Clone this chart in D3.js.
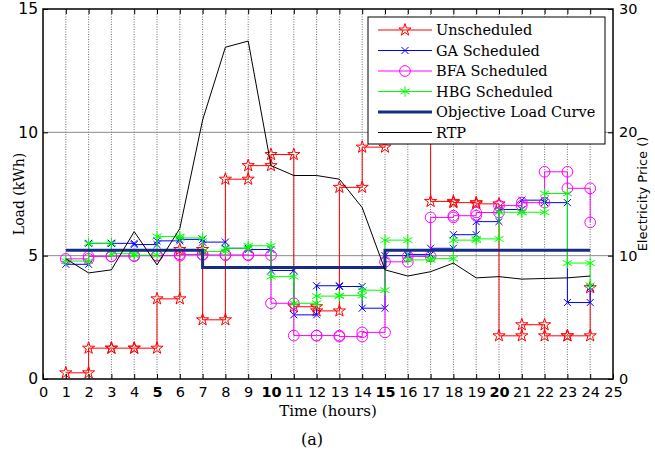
<!DOCTYPE html>
<html>
<head>
<meta charset="utf-8">
<script src="https://cdn.jsdelivr.net/npm/d3@7"></script>
<style>
  body { margin: 0; background: #fff; }
  svg { display: block; }
</style>
</head>
<body>
<svg width="655" height="456"></svg>
<script>
// Hours on the x axis and the series
const hours = d3.range(1, 25);
const xTicks = d3.range(0, 26);
const loadTicks = [0, 5, 10, 15];
const priceTicks = [0, 10, 20, 30];

const unscheduled = [0.25, 1.25, 1.25, 1.25, 3.25, 5.25, 2.4, 8.1, 8.65, 9.1, 2.93, 2.76,
                     7.77, 9.4, 12.2, 12.6, 7.2, 7.15, 7.1, 1.75, 2.2, 1.75, 1.75, 3.7];
const gaScheduled = [4.65, 5.5, 5.5, 5.45, 5.6, 5.66, 5.55, 5.3, 5.25, 4.4, 2.6, 3.78,
                     3.75, 2.87, 5.0, 5.05, 5.3, 5.85, 6.38, 6.87, 7.25, 7.15, 3.1, 3.7];
const bfaScheduled = [4.87, 4.97, 4.98, 5.0, 5.0, 5.05, 5.03, 5.03, 5.02, 3.07, 1.76, 1.76,
                      1.72, 1.89, 4.75, 4.97, 6.55, 6.62, 6.75, 7.03, 7.15, 8.4, 7.73, 6.35];
const hbgScheduled = [4.78, 5.5, 5.08, 5.02, 5.78, 5.72, 5.17, 5.3, 5.4, 4.15, 3.07, 3.36,
                      3.38, 3.6, 5.63, 4.83, 4.88, 5.63, 5.68, 6.76, 6.76, 7.52, 4.7, 3.8];
const objectiveLoad = [5.22, 5.22, 5.22, 5.22, 5.22, 5.22, 4.52, 4.52, 4.52, 4.52, 4.52, 4.52,
                       4.52, 4.52, 5.22, 5.22, 5.22, 5.22, 5.22, 5.22, 5.22, 5.22, 5.22, 5.22];
const rtp = [9.75, 8.6, 8.85, 11.95, 9.25, 12.2, 21.0, 26.9, 27.4, 17.3, 16.5, 16.5,
             16.2, 13.9, 8.85, 8.35, 8.7, 9.4, 8.2, 8.3, 8.1, 8.15, 8.2, 8.35];

// Plot box
const plotLeft = 43, plotRight = 613, plotTop = 9, plotBottom = 379;

const svg = d3.select("svg");

const x = d3.scaleLinear().domain([0, 25]).range([plotLeft, plotRight]);
const y = d3.scaleLinear().domain([0, 15]).range([plotBottom, plotTop]);
const y2 = d3.scaleLinear().domain([0, 30]).range([plotBottom, plotTop]);

// matlab style stairs: step at each hour, last value only at the end point
const stairs = vals => vals.flatMap((v, i) =>
  i < vals.length - 1 ? [[hours[i], v], [hours[i + 1], v]] : [[hours[i], v]]);

// Grid lines
svg.append("g").selectAll("line").data(hours).join("line")
  .attr("x1", d => x(d)).attr("x2", d => x(d))
  .attr("y1", plotTop).attr("y2", plotBottom)
  .attr("stroke", "#6e6e6e").attr("stroke-width", 1)
  .attr("stroke-dasharray", "1,1.5");

svg.append("g").selectAll("line").data([10, 20]).join("line")
  .attr("x1", plotLeft).attr("x2", plotRight)
  .attr("y1", d => y2(d)).attr("y2", d => y2(d))
  .attr("stroke", "#8a8a8a").attr("stroke-width", 1);

// Series definitions (styles only)
const series = [
  { name: "Unscheduled", values: unscheduled, color: "#ff0000", symbol: d3.symbolStar, size: 46 },
  { name: "GA Scheduled", values: gaScheduled, color: "#0000ff", symbol: d3.symbolTimes, size: 34 },
  { name: "BFA Scheduled", values: bfaScheduled, color: "#ff00ff", symbol: d3.symbolCircle, size: 90 },
  { name: "HBG Scheduled", values: hbgScheduled, color: "#00ff00", symbol: d3.symbolAsterisk, size: 80 }
];

const line = d3.line().x(d => x(d[0])).y(d => y(d[1]));

series.forEach(s => {
  const pts = stairs(s.values);
  const g = svg.append("g");
  g.append("path").attr("d", line(pts))
    .attr("fill", "none").attr("stroke", s.color).attr("stroke-width", 1);
  g.selectAll("path.m").data(pts).join("path").attr("class", "m")
    .attr("transform", d => `translate(${x(d[0])},${y(d[1])})`)
    .attr("d", d3.symbol(s.symbol, s.size))
    .attr("fill", "none").attr("stroke", s.color).attr("stroke-width", 1);
});

// Objective load curve
svg.append("path").attr("d", line(stairs(objectiveLoad)))
  .attr("fill", "none").attr("stroke", "#172d84").attr("stroke-width", 3);

// RTP on the right axis
svg.append("path")
  .attr("d", d3.line().x((d, i) => x(hours[i])).y(d => y2(d))(rtp))
  .attr("fill", "none").attr("stroke", "#000").attr("stroke-width", 1);

// Axes
const tickFont = g => g.selectAll("text")
  .attr("font-family", "DejaVu Sans, sans-serif").attr("font-size", 14.5).attr("fill", "#000");

svg.append("g").attr("transform", `translate(0,${plotBottom})`)
  .call(d3.axisBottom(x).tickValues(xTicks).tickSize(-5).tickPadding(8).tickFormat(d3.format("d")))
  .call(g => g.select(".domain").remove())
  .call(tickFont)
  .call(g => g.selectAll("text").attr("font-weight", d => d % 5 === 0 && d > 0 && d < 25 ? "bold" : "normal"));

svg.append("g").attr("transform", `translate(0,${plotTop})`)
  .call(d3.axisTop(x).tickValues(hours).tickSize(-5).tickFormat(""))
  .call(g => g.select(".domain").remove());

svg.append("g").attr("transform", `translate(${plotLeft},0)`)
  .call(d3.axisLeft(y).tickValues(loadTicks).tickSize(-5).tickPadding(5))
  .call(g => g.select(".domain").remove())
  .call(tickFont)
  .call(g => g.selectAll("text").attr("font-size", 15.5));

svg.append("g").attr("transform", `translate(${plotRight},0)`)
  .call(d3.axisRight(y2).tickValues(priceTicks).tickSize(-5).tickPadding(6))
  .call(g => g.select(".domain").remove())
  .call(tickFont);

svg.append("rect")
  .attr("x", plotLeft).attr("y", plotTop)
  .attr("width", plotRight - plotLeft).attr("height", plotBottom - plotTop)
  .attr("fill", "none").attr("stroke", "#000").attr("stroke-width", 1.5);

// Axis titles
svg.append("text").attr("x", x(12.5)).attr("y", 416)
  .attr("text-anchor", "middle").attr("font-family", "DejaVu Serif, serif").attr("font-size", 15)
  .text("Time (hours)");

svg.append("text").attr("x", 312).attr("y", 445)
  .attr("text-anchor", "middle").attr("font-family", "DejaVu Serif, serif").attr("font-size", 16)
  .text("(a)");

svg.append("text").attr("transform", `translate(24,${(plotTop + plotBottom) / 2}) rotate(-90)`)
  .attr("text-anchor", "middle").attr("font-family", "DejaVu Serif, serif").attr("font-size", 14)
  .text("Load (kWh)");

svg.append("text").attr("transform", `translate(647,${(plotTop + plotBottom) / 2}) rotate(-90)`)
  .attr("text-anchor", "middle").attr("font-family", "DejaVu Sans, sans-serif").attr("font-size", 13)
  .text("Electricity Price ()");

// Legend
const legendItems = [
  ...series,
  { name: "Objective Load Curve", color: "#172d84", width: 3 },
  { name: "RTP", color: "#000", width: 1 }
];

const legend = svg.append("g");
legend.append("rect").attr("x", 368).attr("y", 17).attr("width", 237).attr("height", 127)
  .attr("fill", "#fff").attr("stroke", "#000").attr("stroke-width", 1);

const rows = legend.selectAll("g.row").data(legendItems).join("g").attr("class", "row")
  .attr("transform", (d, i) => `translate(0,${30 + i * 20.5})`);

rows.append("line").attr("x1", 378).attr("x2", 432)
  .attr("stroke", d => d.color).attr("stroke-width", d => d.width || 1);

rows.filter(d => d.symbol).append("path")
  .attr("transform", "translate(405,0)")
  .attr("d", d => d3.symbol(d.symbol, d.size)())
  .attr("fill", "none").attr("stroke", d => d.color);

rows.append("text").attr("x", 436).attr("dy", "0.35em")
  .attr("font-family", "DejaVu Serif, serif").attr("font-size", 14.5)
  .text(d => d.name);
</script>
</body>
</html>
